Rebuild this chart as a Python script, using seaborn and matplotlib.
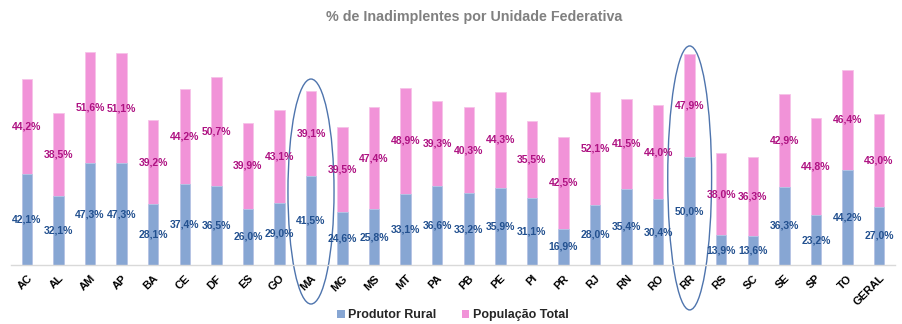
import matplotlib
matplotlib.use("Agg")
import matplotlib.pyplot as plt
import seaborn as sns
import pandas as pd
import numpy as np
from matplotlib.patches import Ellipse, Patch

ufs = ["AC", "AL", "AM", "AP", "BA", "CE", "DF", "ES", "GO", "MA", "MG", "MS", "MT", "PA",
       "PB", "PE", "PI", "PR", "RJ", "RN", "RO", "RR", "RS", "SC", "SE", "SP", "TO", "GERAL"]
produtor_rural = [42.1, 32.1, 47.3, 47.3, 28.1, 37.4, 36.5, 26.0, 29.0, 41.5, 24.6, 25.8, 33.1, 36.6,
                  33.2, 35.9, 31.1, 16.9, 28.0, 35.4, 30.4, 50.0, 13.9, 13.6, 36.3, 23.2, 44.2, 27.0]
populacao_total = [44.2, 38.5, 51.6, 51.1, 39.2, 44.2, 50.7, 39.9, 43.1, 39.1, 39.5, 47.4, 48.9, 39.3,
                   40.3, 44.3, 35.5, 42.5, 52.1, 41.5, 44.0, 47.9, 38.0, 36.3, 42.9, 44.8, 46.4, 43.0]
highlighted = ["MA", "RR"]

sns.set_theme(style="white")
plt.rcParams["font.family"] = ["Liberation Sans", "DejaVu Sans"]

blue = "#87A6D3"
pink = "#F193D8"
blue_txt = "#22508F"
pink_txt = "#AE1282"

df = pd.DataFrame({"uf": ufs, "rural": produtor_rural, "pop": populacao_total})
df["total"] = df["rural"] + df["pop"]

fig = plt.figure(figsize=(9.03, 3.24), dpi=100)
ax = fig.add_axes([11.2 / 903, 59 / 324, 883.6 / 903, 215.5 / 324])

sns.barplot(data=df, x="uf", y="total", color=pink, width=0.33, saturation=1, ax=ax,
            edgecolor="#F6C3E8", linewidth=0.6)
sns.barplot(data=df, x="uf", y="rural", color=blue, width=0.33, saturation=1, ax=ax,
            edgecolor="#B5C8E6", linewidth=0.6)

ax.set_xlim(-0.5, len(ufs) - 0.5)
ax.set_ylim(0, 100)
ax.set_xlabel("")
ax.set_ylabel("")
ax.set_yticks([])
for s in ["top", "right", "left"]:
    ax.spines[s].set_visible(False)
ax.spines["bottom"].set_color("#D9D9D9")
ax.spines["bottom"].set_linewidth(1.0)

for i, (r, p) in enumerate(zip(produtor_rural, populacao_total)):
    ax.text(i, r / 2, f"{r:.1f}%".replace(".", ","), ha="center", va="center",
            fontsize=7.5, fontweight="bold", color=blue_txt)
    ax.text(i, r + p / 2, f"{p:.1f}%".replace(".", ","), ha="center", va="center",
            fontsize=7.5, fontweight="bold", color=pink_txt)

ax.set_xticks(range(len(ufs)))
ax.set_xticklabels(ufs, rotation=45, ha="right", rotation_mode="anchor",
                   fontsize=8, fontweight="bold", color="black")
ax.tick_params(axis="x", length=0, pad=6)

ell_specs = {"MA": (34.1, 1.46, 104.4), "RR": (40.4, 1.39, 122.5)}
for uf in highlighted:
    i = ufs.index(uf)
    cy, w, h = ell_specs[uf]
    e = Ellipse((i, cy), w, h, fill=False, edgecolor="#4E74AD", linewidth=1.0, clip_on=False)
    ax.add_patch(e)

fig.text(0.525, 1 - 17 / 324, "% de Inadimplentes por Unidade Federativa", ha="center", va="center",
         fontsize=10.3, fontweight="bold", color="#808080")

handles = [Patch(facecolor=blue, edgecolor="none", label="Produtor Rural"),
           Patch(facecolor=pink, edgecolor="none", label="População Total")]
fig.legend(handles=handles, loc="center", bbox_to_anchor=(453 / 903, 1 - 315 / 324), ncol=2,
           frameon=False, prop={"weight": "bold", "size": 9}, handlelength=0.6, handleheight=0.6,
           handletextpad=0.3, columnspacing=2.0)

fig.savefig("out.png", dpi=100)
